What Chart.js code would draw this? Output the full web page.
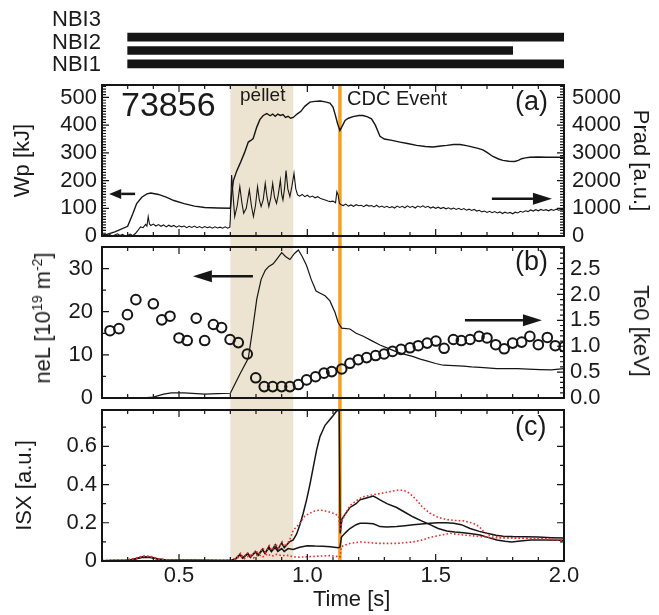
<!DOCTYPE html>
<html>
<head>
<meta charset="utf-8">
<title>Shot 73856</title>
<script src="https://cdn.jsdelivr.net/npm/chart.js@4.4.1/dist/chart.umd.min.js"></script>
<style>
  html, body { margin: 0; background: #fff; }
  #figure { position: relative; width: 659px; height: 615px; overflow: hidden; }
  #figure canvas { position: absolute; left: 0; top: 0; }
  .note {
    position: absolute;
    line-height: 1;
    white-space: nowrap;
    color: #1a1a1a;
    font-family: "Liberation Sans", Arial, Helvetica, sans-serif;
  }
  .note sup { font-size: 14px; vertical-align: 8px; line-height: 0; }
</style>
</head>
<body>
<div id="figure">
  <canvas id="beamChart" width="659" height="615"></canvas>
  <canvas id="energyChart" width="659" height="615"></canvas>
  <canvas id="densityChart" width="659" height="615"></canvas>
  <canvas id="sxrChart" width="659" height="615"></canvas>
</div>
<script>
// ---- data -------------------------------------------------------------
const TIME_TICKS = [0.5, 1.0, 1.5, 2.0];
const PELLET_WINDOW = [0.7, 0.945];
const CDC_TIME = 1.127;

const BEAMS = ["NBI3", "NBI2", "NBI1"];
const BEAM_ON = [[0.3, 2.0], [0.3, 1.8], [0.3, 2.0]];

const WP_TICKS = [0, 100, 200, 300, 400, 500];
const PRAD_TICKS = [0, 1000, 2000, 3000, 4000, 5000];
const NEL_TICKS = [0, 10, 20, 30];
const TE_TICKS = [0, 0.5, 1.0, 1.5, 2.0, 2.5];
const ISX_TICKS = [0, 0.2, 0.4, 0.6];

// stored energy [kJ]
const wp = [
  [0.2, 0], [0.25, 15], [0.3, 35], [0.32, 80], [0.335, 117], [0.355, 140],
  [0.375, 152], [0.39, 155], [0.42, 150], [0.45, 140], [0.48, 128], [0.52, 117],
  [0.56, 108], [0.6, 103], [0.65, 101], [0.7, 100], [0.705, 150], [0.712, 200],
  [0.725, 235], [0.738, 262], [0.755, 300], [0.77, 339], [0.78, 345], [0.789, 352],
  [0.803, 393], [0.815, 420], [0.828, 435], [0.842, 442], [0.855, 434], [0.865, 440],
  [0.875, 432], [0.885, 440], [0.895, 435], [0.905, 438], [0.915, 428], [0.925, 432],
  [0.935, 425], [0.945, 428], [0.96, 440], [0.975, 450], [0.99, 468], [1.01, 483],
  [1.03, 486], [1.05, 487], [1.07, 484], [1.088, 480], [1.1, 465], [1.108, 440],
  [1.118, 405], [1.127, 381], [1.135, 395], [1.147, 417], [1.16, 425], [1.178, 431],
  [1.2, 435], [1.217, 435], [1.235, 430], [1.25, 423], [1.265, 400], [1.283, 360],
  [1.3, 350], [1.33, 345], [1.361, 339], [1.39, 334], [1.426, 327], [1.46, 323],
  [1.49, 321], [1.52, 325], [1.543, 327], [1.57, 330], [1.595, 330], [1.62, 326],
  [1.645, 321], [1.665, 316], [1.684, 311], [1.7, 302], [1.723, 287], [1.745, 278],
  [1.762, 273], [1.785, 270], [1.808, 269], [1.822, 273], [1.835, 279], [1.85, 282],
  [1.867, 284], [1.9, 285], [1.932, 284], [1.96, 284], [2.0, 284],
];

// radiated power [a.u.]
const prad = [
  [0.2, 20], [0.21, 60], [0.22, 10], [0.23, 50], [0.24, 0], [0.25, 40], [0.26, 80],
  [0.27, 20], [0.28, 60], [0.29, 0], [0.3, 30], [0.31, 70], [0.32, 10], [0.33, 90],
  [0.34, 200], [0.35, 330], [0.36, 300], [0.37, 420], [0.375, 360], [0.38, 700],
  [0.385, 430], [0.39, 380], [0.4, 430], [0.41, 360], [0.42, 410], [0.43, 350],
  [0.44, 400], [0.45, 330], [0.46, 390], [0.47, 340], [0.48, 380], [0.49, 320],
  [0.5, 370], [0.51, 330], [0.52, 360], [0.53, 300], [0.54, 350], [0.55, 310],
  [0.56, 360], [0.57, 300], [0.58, 340], [0.59, 290], [0.6, 340], [0.61, 300],
  [0.62, 330], [0.63, 280], [0.64, 330], [0.65, 290], [0.66, 320], [0.67, 280],
  [0.68, 330], [0.69, 280], [0.698, 320], [0.7, 600], [0.705, 2200], [0.712, 1300],
  [0.717, 700], [0.727, 1100], [0.737, 1780], [0.745, 1200], [0.752, 820],
  [0.762, 1000], [0.774, 1660], [0.782, 1100], [0.79, 700], [0.798, 1100],
  [0.806, 1780], [0.813, 1300], [0.82, 1060], [0.828, 1300], [0.836, 1900],
  [0.843, 1400], [0.85, 1060], [0.857, 1350], [0.865, 1900], [0.872, 1400],
  [0.88, 1180], [0.887, 1500], [0.895, 2020], [0.9, 1500], [0.905, 1300],
  [0.911, 1700], [0.917, 2360], [0.924, 1700], [0.932, 1420], [0.94, 1800],
  [0.948, 2260], [0.955, 1700], [0.962, 1480], [0.97, 1440], [0.98, 1500],
  [0.99, 1420], [1.0, 1470], [1.01, 1400], [1.02, 1440], [1.03, 1380], [1.04, 1420],
  [1.05, 1360], [1.06, 1330], [1.07, 1300], [1.08, 1260], [1.09, 1240], [1.1, 1260],
  [1.11, 1200], [1.115, 1600], [1.12, 1480], [1.125, 1180], [1.13, 1140], [1.14, 1100],
  [1.15, 1150], [1.16, 1080], [1.17, 1120], [1.18, 1070], [1.19, 1130], [1.2, 1090],
  [1.21, 1110], [1.22, 1060], [1.23, 1120], [1.24, 1080], [1.25, 1100], [1.26, 1050],
  [1.27, 1110], [1.28, 1040], [1.29, 1080], [1.3, 1030], [1.31, 1070], [1.32, 1020],
  [1.33, 1060], [1.34, 1010], [1.35, 1080], [1.36, 1030], [1.37, 1070], [1.38, 1020],
  [1.39, 1090], [1.4, 1030], [1.41, 1070], [1.42, 1010], [1.43, 1080], [1.44, 1040],
  [1.45, 1090], [1.46, 1030], [1.47, 1070], [1.48, 1010], [1.49, 1050], [1.5, 1000],
  [1.51, 1040], [1.52, 990], [1.53, 1030], [1.54, 980], [1.55, 1020], [1.56, 970],
  [1.57, 1010], [1.58, 960], [1.59, 1000], [1.6, 950], [1.61, 990], [1.62, 930],
  [1.63, 970], [1.64, 920], [1.65, 960], [1.66, 900], [1.67, 930], [1.68, 870],
  [1.69, 900], [1.7, 850], [1.71, 890], [1.72, 840], [1.73, 880], [1.74, 830],
  [1.75, 870], [1.76, 810], [1.77, 860], [1.78, 820], [1.79, 850], [1.8, 800],
  [1.81, 860], [1.82, 830], [1.83, 890], [1.84, 860], [1.85, 910], [1.86, 880],
  [1.87, 940], [1.88, 900], [1.89, 950], [1.9, 910], [1.91, 960], [1.92, 920],
  [1.93, 950], [1.94, 910], [1.95, 960], [1.96, 920], [1.97, 970], [1.98, 930],
  [1.99, 960], [2.0, 940],
];

// line density [1e19 m^-2]
const neL = [
  [0.2, 0], [0.35, 0], [0.4, 0.2], [0.44, 0.9], [0.47, 1.2], [0.52, 1.2], [0.6, 0.9],
  [0.65, 1.0], [0.7, 1.1], [0.72, 3.5], [0.738, 5.6], [0.77, 9.2], [0.787, 16],
  [0.803, 22.9], [0.82, 27.5], [0.836, 29.6], [0.85, 30.5], [0.867, 31.1],
  [0.885, 32.5], [0.9, 33.7], [0.915, 32.8], [0.932, 32.1], [0.95, 33.5],
  [0.965, 34.3], [0.98, 32.8], [0.997, 30.7], [1.015, 27.5], [1.034, 24.8],
  [1.05, 24.3], [1.069, 23.7], [1.088, 22.5], [1.108, 19.8], [1.12, 17.5],
  [1.134, 16.2], [1.166, 16.0], [1.19, 15.0], [1.218, 14.3], [1.25, 13.3],
  [1.283, 12.3], [1.315, 11.5], [1.348, 10.7], [1.38, 10.1], [1.413, 9.6], [1.44, 9.0],
  [1.465, 8.6], [1.5, 8.0], [1.53, 7.6], [1.57, 7.5], [1.608, 7.4], [1.64, 7.2],
  [1.673, 7.1], [1.7, 7.0], [1.738, 6.8], [1.78, 6.8], [1.82, 6.8], [1.86, 6.7],
  [1.906, 6.6], [1.95, 6.5], [2.0, 6.8],
];

// central electron temperature [keV]
const te0 = [
  [0.231, 1.3], [0.266, 1.34], [0.299, 1.61], [0.332, 1.9], [0.4, 1.82], [0.433, 1.51],
  [0.465, 1.58], [0.5, 1.16], [0.532, 1.11], [0.567, 1.54], [0.6, 1.11], [0.634, 1.42],
  [0.666, 1.36], [0.699, 1.13], [0.731, 1.07], [0.766, 0.85], [0.799, 0.39],
  [0.832, 0.22], [0.865, 0.22], [0.9, 0.22], [0.932, 0.22], [0.965, 0.26],
  [0.997, 0.35], [1.032, 0.41], [1.065, 0.48], [1.095, 0.51], [1.134, 0.56],
  [1.166, 0.67], [1.198, 0.74], [1.231, 0.78], [1.266, 0.82], [1.299, 0.85],
  [1.332, 0.9], [1.365, 0.94], [1.4, 0.97], [1.432, 1.01], [1.467, 1.06], [1.501, 1.1],
  [1.533, 0.96], [1.569, 1.13], [1.6, 1.11], [1.634, 1.13], [1.669, 1.19], [1.7, 1.16],
  [1.734, 1.03], [1.767, 0.95], [1.8, 1.06], [1.835, 1.08], [1.867, 1.19], [1.9, 1.03],
  [1.935, 1.17], [1.966, 1.01], [2.0, 0.99],
];

// soft X-ray channels [a.u.]
const isxCore = [
  [0.2, 0.001], [0.25, 0.002], [0.3, 0.004], [0.33, 0.012], [0.36, 0.022], [0.39, 0.02],
  [0.42, 0.01], [0.45, 0.005], [0.55, 0.004], [0.65, 0.003], [0.7, 0.003], [0.72, 0.01],
  [0.738, 0.035], [0.748, 0.015], [0.768, 0.04], [0.778, 0.02], [0.798, 0.05],
  [0.808, 0.03], [0.825, 0.062], [0.835, 0.04], [0.85, 0.075], [0.86, 0.05],
  [0.875, 0.085], [0.885, 0.06], [0.9, 0.095], [0.91, 0.07], [0.93, 0.1], [0.945, 0.11],
  [0.958, 0.14], [0.971, 0.19], [0.984, 0.25], [0.997, 0.32], [1.01, 0.4], [1.023, 0.49],
  [1.036, 0.58], [1.049, 0.65], [1.069, 0.71], [1.088, 0.74], [1.1, 0.76], [1.114, 0.785],
  [1.124, 0.79], [1.128, 0.145], [1.135, 0.22], [1.15, 0.25], [1.166, 0.28], [1.19, 0.3],
  [1.205, 0.32], [1.23, 0.33], [1.257, 0.34], [1.27, 0.33], [1.283, 0.32], [1.31, 0.3],
  [1.348, 0.28], [1.38, 0.255], [1.413, 0.23], [1.445, 0.21], [1.478, 0.19], [1.51, 0.17],
  [1.543, 0.157], [1.575, 0.152], [1.608, 0.148], [1.64, 0.142], [1.673, 0.136],
  [1.7, 0.125], [1.738, 0.11], [1.77, 0.103], [1.796, 0.1], [1.83, 0.105], [1.87, 0.11],
  [1.93, 0.11], [2.0, 0.108],
];
const isxMid = [
  [0.2, 0.001], [0.25, 0.002], [0.3, 0.003], [0.33, 0.01], [0.36, 0.02], [0.39, 0.018],
  [0.42, 0.009], [0.45, 0.005], [0.55, 0.004], [0.65, 0.003], [0.7, 0.003], [0.72, 0.01],
  [0.738, 0.033], [0.748, 0.015], [0.768, 0.038], [0.778, 0.02], [0.798, 0.047],
  [0.808, 0.03], [0.825, 0.058], [0.835, 0.04], [0.85, 0.068], [0.86, 0.05],
  [0.875, 0.07], [0.885, 0.05], [0.9, 0.065], [0.91, 0.05], [0.925, 0.065], [0.945, 0.06],
  [0.97, 0.072], [1.0, 0.08], [1.03, 0.078], [1.06, 0.077], [1.09, 0.075], [1.12, 0.07],
  [1.127, 0.072], [1.133, 0.125], [1.15, 0.15], [1.166, 0.17], [1.19, 0.19],
  [1.205, 0.197], [1.23, 0.198], [1.257, 0.195], [1.283, 0.18], [1.31, 0.178],
  [1.348, 0.18], [1.38, 0.185], [1.413, 0.19], [1.445, 0.193], [1.478, 0.197],
  [1.51, 0.2], [1.54, 0.2], [1.57, 0.198], [1.6, 0.19], [1.634, 0.17], [1.67, 0.155],
  [1.7, 0.145], [1.735, 0.135], [1.763, 0.13], [1.8, 0.128], [1.85, 0.127], [1.9, 0.125],
  [1.95, 0.122], [2.0, 0.12],
];
const isxInner = [
  [0.2, 0.002], [0.3, 0.006], [0.33, 0.015], [0.36, 0.027], [0.39, 0.024], [0.42, 0.012],
  [0.45, 0.006], [0.55, 0.005], [0.7, 0.004], [0.72, 0.012], [0.74, 0.04], [0.75, 0.02],
  [0.77, 0.045], [0.78, 0.025], [0.8, 0.055], [0.81, 0.035], [0.827, 0.068],
  [0.837, 0.045], [0.852, 0.08], [0.862, 0.055], [0.877, 0.09], [0.887, 0.065],
  [0.902, 0.1], [0.912, 0.075], [0.93, 0.105], [0.945, 0.16], [0.971, 0.197],
  [0.99, 0.235], [1.01, 0.25], [1.03, 0.262], [1.049, 0.266], [1.07, 0.262],
  [1.088, 0.255], [1.11, 0.245], [1.122, 0.235], [1.128, 0.16], [1.135, 0.21],
  [1.15, 0.25], [1.166, 0.29], [1.19, 0.315], [1.215, 0.335], [1.25, 0.345],
  [1.283, 0.353], [1.32, 0.362], [1.348, 0.37], [1.37, 0.37], [1.39, 0.362], [1.41, 0.34],
  [1.426, 0.318], [1.45, 0.28], [1.478, 0.25], [1.51, 0.228], [1.543, 0.217],
  [1.576, 0.212], [1.61, 0.21], [1.647, 0.197], [1.67, 0.18], [1.687, 0.153],
  [1.71, 0.135], [1.74, 0.127], [1.78, 0.122], [1.85, 0.12], [1.93, 0.115], [2.0, 0.106],
];
const isxEdge = [
  [0.2, 0.002], [0.3, 0.005], [0.33, 0.013], [0.36, 0.025], [0.39, 0.022], [0.42, 0.011],
  [0.45, 0.006], [0.55, 0.005], [0.7, 0.004], [0.72, 0.01], [0.74, 0.025], [0.755, 0.012],
  [0.775, 0.03], [0.79, 0.015], [0.81, 0.035], [0.825, 0.02], [0.845, 0.038],
  [0.86, 0.025], [0.88, 0.035], [0.9, 0.028], [0.92, 0.03], [0.945, 0.022], [0.97, 0.02],
  [1.0, 0.022], [1.05, 0.026], [1.09, 0.028], [1.12, 0.023], [1.127, 0.02],
  [1.133, 0.075], [1.15, 0.085], [1.166, 0.092], [1.205, 0.1], [1.25, 0.095],
  [1.283, 0.092], [1.348, 0.092], [1.413, 0.1], [1.45, 0.11], [1.478, 0.124],
  [1.52, 0.135], [1.556, 0.145], [1.58, 0.14], [1.608, 0.136], [1.673, 0.128],
  [1.738, 0.12], [1.8, 0.12], [1.9, 0.118], [2.0, 0.11],
];

// ---- shared look ------------------------------------------------------
Chart.defaults.font.family = '"Liberation Sans", Arial, Helvetica, sans-serif';
Chart.defaults.font.size = 22;
Chart.defaults.color = "#1a1a1a";
Chart.defaults.animation = false;
Chart.defaults.events = [];
Chart.defaults.plugins.legend.display = false;
Chart.defaults.plugins.tooltip.enabled = false;

const INK = "#151515";
const RED = "#e8302a";

function points(pairs) {
  return pairs.map(([x, y]) => ({ x, y }));
}

function timeAxis(showLabels) {
  const axis = {
    type: "linear",
    min: 0.2,
    max: 2.0,
    display: showLabels,
    grid: { display: false, drawTicks: false },
    border: { display: false },
    ticks: { padding: 2, autoSkip: false, maxRotation: 0, callback: (v) => v.toFixed(1) },
    afterBuildTicks: (s) => { s.ticks = TIME_TICKS.map((v) => ({ value: v })); },
  };
  if (showLabels) axis.afterFit = (s) => { s.height = 54; };
  return axis;
}

function valueAxis(position, max, ticks, fmt, title, width, pad, titlePad) {
  return {
    type: "linear",
    position,
    min: 0,
    max,
    grid: { display: false, drawTicks: false },
    border: { display: false },
    ticks: { padding: pad, autoSkip: false, callback: fmt },
    afterBuildTicks: (s) => { s.ticks = ticks.map((v) => ({ value: v })); },
    afterFit: (s) => { s.width = width; },
    title: { display: !!title, text: title || "", padding: { top: titlePad, bottom: 0 } },
  };
}

// pellet window, CDC marker, boxed frame with inward ticks, arrows
const panelDecor = {
  id: "panelDecor",
  beforeDatasetsDraw(chart, args, opts) {
    const { ctx, chartArea: area, scales } = chart;
    const bottom = area.bottom + (opts.gapBelow || 0);
    const x0 = scales.x.getPixelForValue(PELLET_WINDOW[0]);
    const x1 = scales.x.getPixelForValue(PELLET_WINDOW[1]);
    const xc = scales.x.getPixelForValue(CDC_TIME);
    ctx.save();
    ctx.fillStyle = "#ece3d1";
    ctx.fillRect(x0, area.top, x1 - x0, bottom - area.top);
    ctx.strokeStyle = "#f6a01c";
    ctx.lineWidth = 3.5;
    ctx.beginPath();
    ctx.moveTo(xc, area.top);
    ctx.lineTo(xc, bottom);
    ctx.stroke();
    ctx.restore();
  },
  afterDatasetsDraw(chart, args, opts) {
    const { ctx, chartArea: area, scales } = chart;
    ctx.save();
    ctx.strokeStyle = INK;
    ctx.lineWidth = 1.2;
    drawTicks(ctx, scales.x, area, "x", 0.1, 0.5);
    opts.sides.forEach((s) => drawTicks(ctx, scales[s.scale], area, s.side, s.minor, s.major));
    ctx.lineWidth = 2;
    ctx.strokeRect(area.left, area.top, area.right - area.left, area.bottom - area.top);

    ctx.fillStyle = INK;
    (opts.arrows || []).forEach((a) => {
      const ys = scales[a.scale];
      const xa = scales.x.getPixelForValue(a.from[0]);
      const xb = scales.x.getPixelForValue(a.to[0]);
      const y = ys.getPixelForValue(a.from[1]);
      const dir = Math.sign(xb - xa);
      ctx.lineWidth = 2.5;
      ctx.beginPath();
      ctx.moveTo(xa, y);
      ctx.lineTo(xb - dir * a.head, y);
      ctx.stroke();
      ctx.beginPath();
      ctx.moveTo(xb, y);
      ctx.lineTo(xb - dir * a.head, y - a.half);
      ctx.lineTo(xb - dir * a.head, y + a.half);
      ctx.closePath();
      ctx.fill();
    });
    ctx.restore();
  },
};

function drawTicks(ctx, scale, area, side, minor, major) {
  const first = Math.ceil(scale.min / minor - 1e-6);
  const last = Math.floor(scale.max / minor + 1e-6);
  ctx.beginPath();
  for (let i = first; i <= last; i++) {
    const v = i * minor;
    const len = Math.abs(v / major - Math.round(v / major)) < 1e-6 ? 7 : 4;
    const p = scale.getPixelForValue(v);
    if (side === "x") {
      ctx.moveTo(p, area.top);
      ctx.lineTo(p, area.top + len);
      ctx.moveTo(p, area.bottom);
      ctx.lineTo(p, area.bottom - len);
    } else if (side === "left") {
      ctx.moveTo(area.left, p);
      ctx.lineTo(area.left + len, p);
    } else {
      ctx.moveTo(area.right, p);
      ctx.lineTo(area.right - len, p);
    }
  }
  ctx.stroke();
}

function line(data, axis, opts) {
  return Object.assign({
    data: points(data),
    yAxisID: axis,
    borderColor: INK,
    borderWidth: 1.3,
    pointRadius: 0,
    tension: 0,
  }, opts || {});
}

// ---- charts -----------------------------------------------------------
function createBeamChart() {
  new Chart(document.getElementById("beamChart"), {
    type: "bar",
    data: {
      labels: BEAMS,
      datasets: [{ data: BEAM_ON, backgroundColor: INK, barThickness: 8, borderSkipped: false }],
    },
    options: {
      indexAxis: "y",
      responsive: false,
      layout: { padding: { left: 102, right: 95, top: 30.5, bottom: 544.5 } },
      scales: {
        x: { type: "linear", min: 0.2, max: 2.0, display: false },
        y: { display: false },
      },
    },
  });
}

function createEnergyChart() {
  new Chart(document.getElementById("energyChart"), {
    type: "line",
    data: {
      datasets: [
        line(wp, "yL", { borderWidth: 1.4 }),
        line(prad, "yR", { borderWidth: 1.1 }),
      ],
    },
    options: {
      responsive: false,
      layout: { padding: { left: 0, right: 0, top: 85, bottom: 379 } },
      scales: {
        x: timeAxis(false),
        yL: valueAxis("left", 545, WP_TICKS, (v) => String(v), "Wp [kJ]", 102, 5, 10),
        yR: valueAxis("right", 5450, PRAD_TICKS, (v) => String(v), "Prad [a.u.]", 95, 8, 6),
      },
      plugins: {
        panelDecor: {
          gapBelow: 11,
          sides: [
            { scale: "yL", side: "left", minor: 10, major: 100 },
            { scale: "yR", side: "right", minor: 100, major: 1000 },
          ],
          arrows: [
            { scale: "yL", from: [0.329, 152], to: [0.228, 152], head: 12, half: 5 },
            { scale: "yR", from: [1.719, 1340], to: [1.953, 1340], head: 19, half: 6 },
          ],
        },
      },
    },
    plugins: [panelDecor],
  });
}

function createDensityChart() {
  new Chart(document.getElementById("densityChart"), {
    type: "line",
    data: {
      datasets: [
        line(neL, "yL", { borderWidth: 1.2 }),
        line(te0, "yR", {
          showLine: false,
          pointRadius: 4.8,
          pointBorderWidth: 2,
          pointBorderColor: INK,
          pointBackgroundColor: "rgba(0,0,0,0)",
        }),
      ],
    },
    options: {
      responsive: false,
      layout: { padding: { left: 0, right: 0, top: 247, bottom: 217 } },
      scales: {
        x: timeAxis(false),
        yL: valueAxis("left", 35, NEL_TICKS, (v) => String(v), "", 102, 9, 0),
        yR: valueAxis("right", 35 / 12, TE_TICKS, (v) => v.toFixed(1), "", 95, 6, 0),
      },
      plugins: {
        panelDecor: {
          gapBelow: 12,
          sides: [
            { scale: "yL", side: "left", minor: 5, major: 10 },
            { scale: "yR", side: "right", minor: 0.1, major: 0.5 },
          ],
          arrows: [
            { scale: "yL", from: [0.788, 28.2], to: [0.554, 28.2], head: 19, half: 6 },
            { scale: "yR", from: [1.614, 1.5], to: [1.914, 1.5], head: 19, half: 6 },
          ],
        },
      },
    },
    plugins: [panelDecor],
  });
}

function createSoftXrayChart() {
  const dotted = { borderColor: RED, borderWidth: 1.6, borderDash: [1.6, 2.2] };
  new Chart(document.getElementById("sxrChart"), {
    type: "line",
    data: {
      datasets: [
        line(isxEdge, "yL", dotted),
        line(isxInner, "yL", dotted),
        line(isxMid, "yL", { borderWidth: 1.5 }),
        line(isxCore, "yL", { borderWidth: 1.5 }),
      ],
    },
    options: {
      responsive: false,
      layout: { padding: { left: 0, right: 95, top: 410, bottom: 0 } },
      scales: {
        x: timeAxis(true),
        yL: valueAxis("left", 0.79, ISX_TICKS, (v) => (v === 0 ? "0" : v.toFixed(1)), "ISX [a.u.]", 102, 5, 12),
      },
      plugins: {
        panelDecor: {
          gapBelow: 0,
          sides: [
            { scale: "yL", side: "left", minor: 0.1, major: 0.2 },
            { scale: "yL", side: "right", minor: 0.1, major: 0.2 },
          ],
        },
      },
    },
    plugins: [panelDecor],
  });
}

// free-standing labels, placed by their baseline
function addNote(html, left, baseline, size, rotate) {
  const el = document.createElement("div");
  el.className = "note";
  el.innerHTML = html;
  el.style.fontSize = size + "px";
  if (rotate) {
    el.style.left = left + "px";
    el.style.top = baseline + "px";
    el.style.transform = "translate(-50%, -50%) rotate(" + rotate + "deg)";
  } else {
    el.style.left = left + "px";
    el.style.top = (baseline - 0.8465 * size) + "px";
  }
  document.getElementById("figure").appendChild(el);
}

createBeamChart();
createEnergyChart();
createDensityChart();
createSoftXrayChart();

addNote("NBI3", 52, 27, 22);
addNote("NBI2", 52, 50, 22);
addNote("NBI1", 52, 72, 22);
addNote("73856", 121, 116, 34);
addNote("pellet", 240, 101, 19);
addNote("CDC Event", 347, 105, 20);
addNote("(a)", 515, 111, 27);
addNote("(b)", 515, 271, 27);
addNote("(c)", 515, 436, 27);
addNote("neL [10<sup>19</sup> m<sup>-2</sup>]", 43, 318, 22, -90);
addNote("Te0 [keV]", 641, 331, 22, 90);
addNote("Time [s]", 313, 607, 22);
</script>
</body>
</html>
